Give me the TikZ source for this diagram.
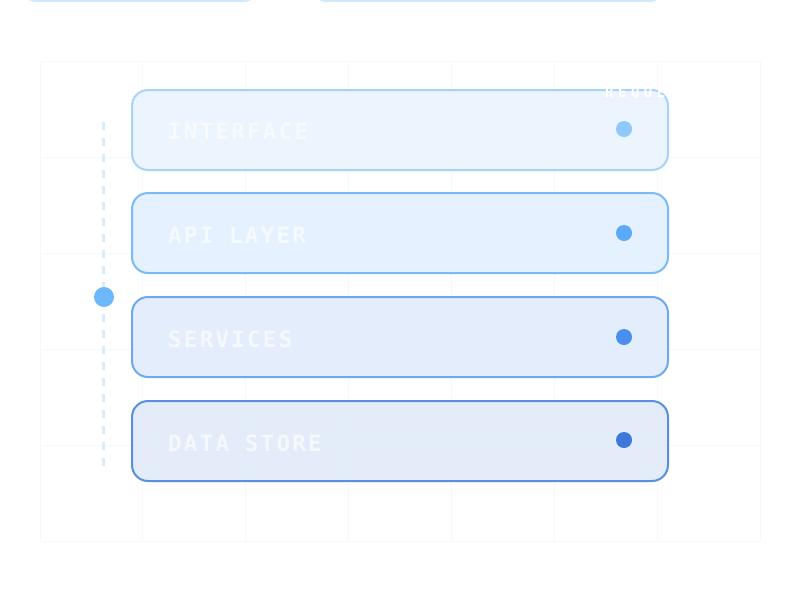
\documentclass[tikz,border=0pt]{standalone}
\usepackage{fontspec}
\newfontfamily\monofont[LetterSpace=10]{DejaVu Sans Mono}
\newfontfamily\smallmono[LetterSpace=32]{DejaVu Sans Mono}
\definecolor{gridc}{HTML}{F5F9FE}
\definecolor{topc}{HTML}{D2EAFC}
\definecolor{dashc}{HTML}{D8ECFB}
\definecolor{sidedot}{HTML}{6DB8FB}
\definecolor{fillA}{HTML}{EBF4FE}
\definecolor{fillB}{HTML}{E3F0FE}
\definecolor{fillC}{HTML}{E2ECFC}
\definecolor{fillD}{HTML}{E1EBF8}
\definecolor{drawA}{HTML}{A6D3FB}
\definecolor{drawB}{HTML}{7CBAF5}
\definecolor{drawC}{HTML}{6EA8F2}
\definecolor{drawD}{HTML}{5B8EE0}
\definecolor{dotA}{HTML}{8EC8FD}
\definecolor{dotB}{HTML}{5AAAF7}
\definecolor{dotC}{HTML}{4A8EF0}
\definecolor{dotD}{HTML}{3E78D8}
\begin{document}
\begin{tikzpicture}[x=1pt,y=-1pt,
  layerbox/.style={draw, line width=2pt, rounded corners=16pt, minimum width=536pt, minimum height=80pt, inner sep=0pt, fill opacity=0.92},
  layertext/.style={font=\monofont\bfseries\fontsize{22.5}{22.5}\selectfont, text=white, text opacity=0.65, anchor=west, inner sep=0pt},
  layerdot/.style={circle, minimum size=16pt, inner sep=0pt},
  gridline/.style={gridc, line width=1pt}]
\useasboundingbox (0,0) rectangle (800,600);
\fill[white] (0,0) rectangle (800,600);
% grid
\foreach \y in {61,157,253,349,445,541} \draw[gridline] (40,\y) -- (760,\y);
\foreach \i in {0,...,7} \draw[gridline] ({40+\i*720/7},61) -- ({40+\i*720/7},541);
% top partial boxes
\fill[topc, rounded corners=14pt] (22,-40) rectangle (258,2);
\fill[topc, rounded corners=14pt] (312,-40) rectangle (664,2);
% side dashed line and dot
\coordinate (dtop) at (103,122);
\coordinate (dbot) at (103,470);
\draw[dashc, line width=3pt, dash pattern=on 8pt off 8pt] (dtop) -- (dbot);
\node[circle, fill=sidedot, minimum size=20pt, inner sep=0pt] (sdot) at (104,297) {};
% layers
\node[layerbox, draw=drawA, fill=fillA] (l1) at (400,130) {};
\node[layerbox, draw=drawB, fill=fillB] (l2) at (400,233) {};
\node[layerbox, draw=drawC, fill=fillC] (l3) at (400,337) {};
\node[layerbox, draw=drawD, fill=fillD] (l4) at (400,441) {};
\node[layertext] (t1) at (168,131) {INTERFACE};
\node[layertext] (t2) at (168,235) {API LAYER};
\node[layertext] (t3) at (168,339) {SERVICES};
\node[layertext] (t4) at (168,443) {DATA STORE};
\node[layerdot, fill=dotA] (d1) at (624,129) {};
\node[layerdot, fill=dotB] (d2) at (624,233) {};
\node[layerdot, fill=dotC] (d3) at (624,337) {};
\node[layerdot, fill=dotD] (d4) at (624,440) {};
\node[font=\smallmono\bfseries\fontsize{14}{14}\selectfont, text=white, anchor=west, inner sep=0pt] (req) at (605,93) {REQUEST};
\end{tikzpicture}
\end{document}
